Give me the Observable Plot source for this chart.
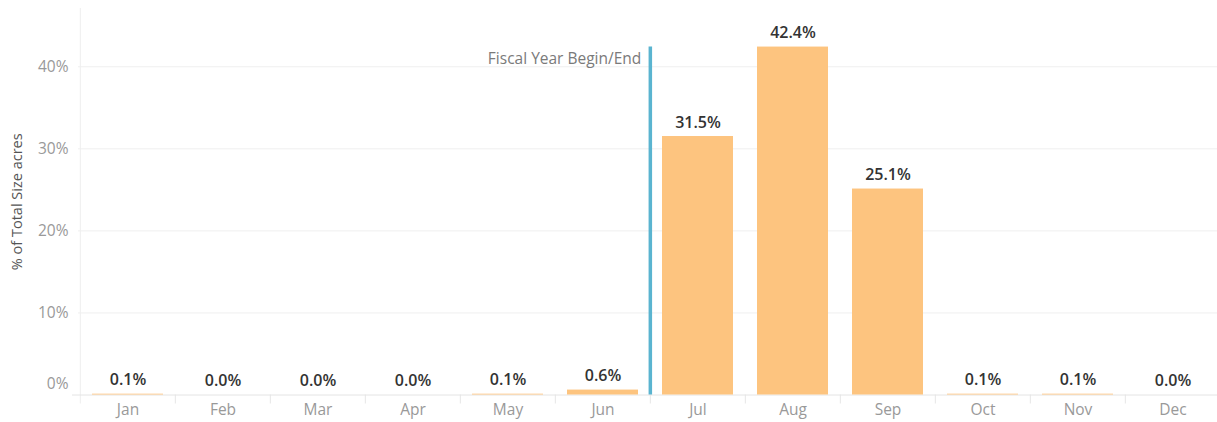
<!DOCTYPE html>
<html>
<head>
<meta charset="utf-8">
<script src="https://cdn.jsdelivr.net/npm/d3@7"></script>
<script src="https://cdn.jsdelivr.net/npm/@observablehq/plot@0.6"></script>
<style>
  html, body { margin: 0; padding: 0; background: #fff; }
  #chart svg { display: block; font-family: "Open Sans", sans-serif; }
</style>
</head>
<body>
<div id="chart"></div>
<script>
const months = ["Jan","Feb","Mar","Apr","May","Jun","Jul","Aug","Sep","Oct","Nov","Dec"];
const shares = [0.1, 0.0, 0.0, 0.0, 0.1, 0.6, 31.5, 42.4, 25.1, 0.1, 0.1, 0.0];
const gridTicks = [10, 20, 30, 40];
const zeroTick = [0];
const fiscalMonth = "Jul";
const fiscalLabel = "Fiscal Year Begin/End";
const yTitle = "% of Total Size acres";

const data = months.map((m, i) => ({month: m, share: shares[i]}));

const W = 1217, H = 422, mL = 78, mR = -5, mT = 8, mB = 27.5;
const step = (W - mL - mR) / months.length;
const yMax = 47.1;
const fiscalTop = d3.max(shares);

const chart = Plot.plot({
  width: W, height: H,
  marginLeft: mL, marginRight: mR, marginTop: mT, marginBottom: mB,
  style: {background: "#fff", fontFamily: "'Open Sans', sans-serif"},
  x: {domain: months, paddingInner: 0.25, paddingOuter: 0.125, label: null},
  y: {domain: [0, yMax], label: null},
  marks: [
    Plot.ruleY(gridTicks, {stroke: "#efefef", strokeWidth: 1}),
    // left axis line
    Plot.ruleX([months[0]], {x: d => d, dx: -step / 2, stroke: "#eeeeee", insetBottom: -9}),
    // category divider ticks below the axis
    Plot.ruleX(months.slice(1), {x: d => d, dx: -step / 2, y1: 0, y2: 0, stroke: "#e6e6e6", insetBottom: -9}),
    Plot.ruleY(zeroTick, {stroke: "#e4e4e4", insetLeft: -6}),
    Plot.barY(data, {x: "month", y: "share", fill: "#fdc47f"}),
    Plot.ruleX([fiscalMonth], {x: d => d, dx: -step / 2, y1: 0, y2: fiscalTop, stroke: "#5ab4d0", strokeWidth: 3.5}),
    Plot.text([fiscalLabel], {x: () => fiscalMonth, y: () => fiscalTop, text: d => d, dx: -step / 2 - 9, dy: 12,
      textAnchor: "end", fill: "#7a7a7a", fontSize: 15.5}),
    Plot.text(data, {x: "month", y: "share", text: d => d.share.toFixed(1) + "%", dy: -14,
      fill: "#333", fontSize: 16, fontWeight: 600}),
    Plot.axisY(gridTicks, {tickSize: 0, tickPadding: 10, tickFormat: d => d + "%", fill: "#999", fontSize: 15.5}),
    Plot.axisY(zeroTick, {tickSize: 0, tickPadding: 10, tickFormat: d => d + "%", fill: "#999", fontSize: 15.5, dy: -11}),
    Plot.axisX({tickSize: 0, tickPadding: 9, fill: "#999", fontSize: 15.5}),
    Plot.text([yTitle], {frameAnchor: "left", text: d => d, dx: -61, rotate: -90, textAnchor: "middle",
      fill: "#555", fontSize: 14.5})
  ]
});
document.getElementById("chart").appendChild(chart);
</script>
</body>
</html>
